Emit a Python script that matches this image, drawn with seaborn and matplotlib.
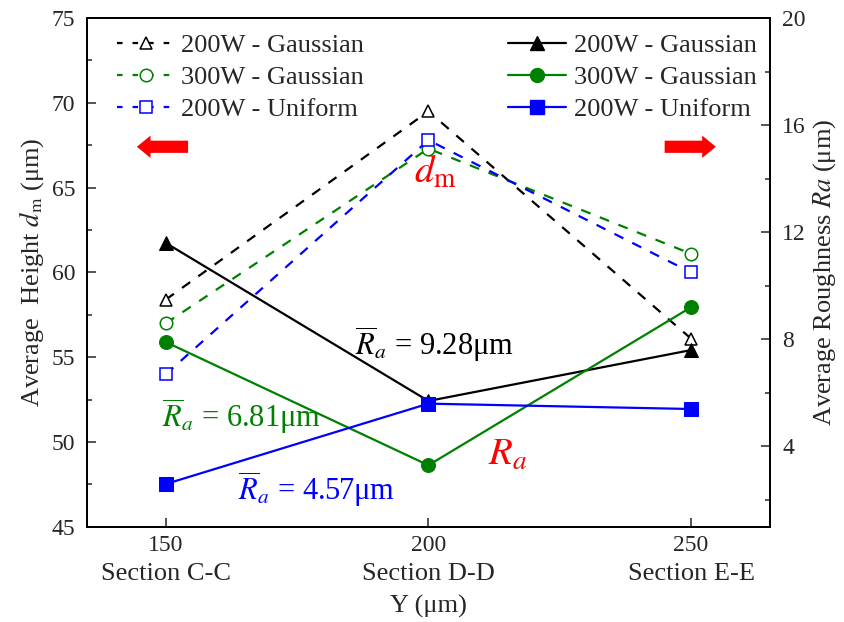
import matplotlib
matplotlib.use("Agg")
import matplotlib.pyplot as plt
from matplotlib.ticker import MultipleLocator
from matplotlib.lines import Line2D
from matplotlib.patches import FancyArrow
import seaborn as sns
import pandas as pd

# Sampling positions along Y (µm) and section names
positions = [150, 200, 250]
sections = ["Section C-C", "Section D-D", "Section E-E"]

# Average height d_m (µm), left axis
dm_200w_gauss = [58.4, 69.5, 56.1]
dm_300w_gauss = [57.0, 67.3, 61.1]
dm_200w_unif = [54.0, 67.8, 60.0]

# Average roughness Ra (µm), right axis
ra_200w_gauss = [11.6, 5.7, 7.6]
ra_300w_gauss = [7.9, 3.3, 9.2]
ra_200w_unif = [2.6, 5.6, 5.4]

series_names = ["200W - Gaussian", "300W - Gaussian", "200W - Uniform"]
series_colors = ["#000000", "#008000", "#0000FF"]
series_markers = ["^", "o", "s"]

# Mean roughness notes
ra_mean_text = ["9.28", "6.81", "4.57"]

sns.set_style("ticks")
plt.rcParams["font.family"] = ["Liberation Serif", "DejaVu Serif"]
plt.rcParams["mathtext.fontset"] = "stix"

fig = plt.figure(figsize=(8.45, 6.22), dpi=100)
ax = fig.add_axes([0.103, 0.153, 0.808, 0.818])
ax2 = ax.twinx()

dm_all = [dm_200w_gauss, dm_300w_gauss, dm_200w_unif]
ra_all = [ra_200w_gauss, ra_300w_gauss, ra_200w_unif]

dash_handles, solid_handles = [], []
for name, col, mk, dm in zip(series_names, series_colors, series_markers, dm_all):
    df = pd.DataFrame({"Y": positions, "dm": dm})
    sns.lineplot(data=df, x="Y", y="dm", ax=ax, color=col, lw=1.6,
                 linestyle=(0, (4.5, 4.5)), marker=mk, markersize=9,
                 markerfacecolor="white", markeredgecolor=col, markeredgewidth=1.1)
    dash_handles.append(Line2D([], [], color=col, lw=1.6, linestyle=(0, (2.5, 4.5)),
                               marker=mk, markersize=9, markerfacecolor="white",
                               markeredgecolor=col, markeredgewidth=1.1))

for name, col, mk, ra in zip(series_names, series_colors, series_markers, ra_all):
    df = pd.DataFrame({"Y": positions, "Ra": ra})
    sns.lineplot(data=df, x="Y", y="Ra", ax=ax2, color=col, lw=1.6,
                 marker=mk, markersize=10, markerfacecolor=col,
                 markeredgecolor=col)
    solid_handles.append(Line2D([], [], color=col, lw=1.6, marker=mk, markersize=10,
                                markerfacecolor=col, markeredgecolor=col))

# Axes limits and ticks
ax.set_xlim(135, 265)
ax.set_ylim(45, 75)
ax2.set_ylim(1, 20)
ax.set_xticks(positions)
ax.set_xticklabels([str(p) for p in positions])
ax.yaxis.set_major_locator(MultipleLocator(5))
ax.yaxis.set_minor_locator(MultipleLocator(2.5))
ax2.yaxis.set_major_locator(MultipleLocator(4))
ax2.yaxis.set_minor_locator(MultipleLocator(2))

for a in (ax, ax2):
    a.tick_params(which="major", direction="in", length=6.5, width=1.1, labelsize=17)
    a.tick_params(which="minor", direction="in", length=3.5, width=1.1)
    for sp in a.spines.values():
        sp.set_visible(True)
        sp.set_linewidth(1.3)
        sp.set_color("black")
ax.tick_params(axis="x", pad=6)
ax.tick_params(axis="y", pad=8.5)
ax2.tick_params(axis="y", pad=9)

ax.set_xlabel("Y (μm)", fontsize=19, labelpad=28)
ax.set_ylabel(r"Average  Height $d_{\rm m}$ (μm)", fontsize=19, labelpad=4)
ax2.set_ylabel(r"Average Roughness $Ra$ (μm)", fontsize=19, labelpad=4)

# Section names under the position numbers
for p, s in zip(positions, sections):
    ax.annotate(s, xy=(p, 0), xycoords=("data", "axes fraction"),
                xytext=(0, -34), textcoords="offset points",
                ha="center", va="center", fontsize=19)

# Legends: dashed/open for height, solid/filled for roughness
leg1 = ax2.legend(dash_handles, series_names, loc="upper left", frameon=False,
                  fontsize=19, handlelength=2.2, handletextpad=0.25,
                  labelspacing=0.32, borderaxespad=0.2, bbox_to_anchor=(0.02, 1.0))
ax2.add_artist(leg1)
ax2.legend(solid_handles, series_names, loc="upper right", frameon=False,
           fontsize=19, handlelength=2.2, handletextpad=0.3,
           labelspacing=0.32, borderaxespad=0.2, bbox_to_anchor=(1.004, 1.0))

# Arrows pointing to each axis
red = "#FF0000"
ax.add_patch(FancyArrow(0.148, 0.747, -0.075, 0, width=0.024, head_width=0.044,
                        head_length=0.02, length_includes_head=True,
                        transform=ax.transAxes, color=red, lw=0))
ax.add_patch(FancyArrow(0.846, 0.747, 0.075, 0, width=0.024, head_width=0.044,
                        head_length=0.02, length_includes_head=True,
                        transform=ax.transAxes, color=red, lw=0))

ax.text(0.51, 0.695, r"$d_{\rm m}$", transform=ax.transAxes, color=red,
        fontsize=28, ha="center", va="center")
ax2.text(0.616, 0.14, r"$R_a$", transform=ax.transAxes, color=red,
         fontsize=28, ha="center", va="center")

# Mean roughness notes
note_pos = [(0.392, 0.358), (0.11, 0.218), (0.221, 0.073)]
for txt, col, (px, py) in zip(ra_mean_text, series_colors, note_pos):
    ax2.text(px, py, r"$\overline{R}_a$ = " + txt + "μm", transform=ax.transAxes,
             color=col, fontsize=22, ha="left", va="center")

fig.savefig("out.png", dpi=100)
